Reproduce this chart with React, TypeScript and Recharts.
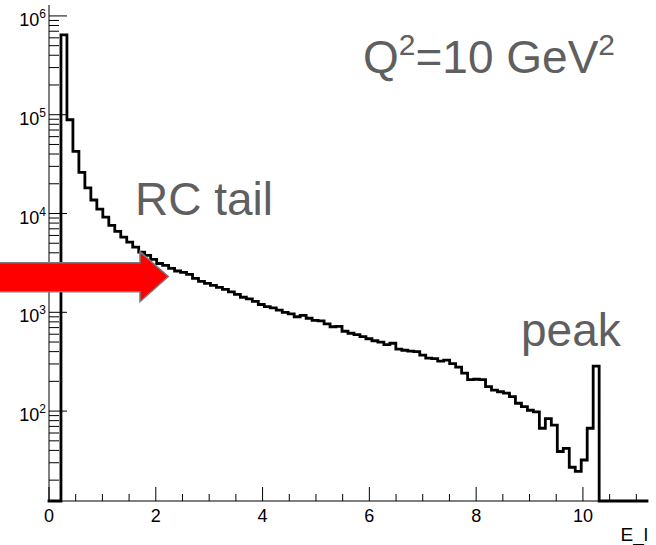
import React from "react";
import { LineChart, Line, XAxis, YAxis } from "recharts";

// Histogram: 100 bins over E_l in [0, 11.2]
const X_MIN = 0;
const X_MAX = 11.2;
const N_BINS = 100;
const Y_MIN = 12.3;
const Y_MAX = 1.29e6;

// bin contents (counts), bins 0..99
const counts: number[] = [
  0, 0, 643000, 88900, 42600, 26100, 18200, 13700, 11100, 9180,
  7570, 6580, 5770, 5140, 4570, 4070, 3770, 3430, 3120, 2980,
  2780, 2620, 2530, 2420, 2200, 2060, 1960, 1870, 1790, 1710,
  1610, 1520, 1420, 1370, 1290, 1200, 1140, 1110, 1050, 1000,
  966, 901, 933, 870, 830, 820, 765, 714, 722, 643,
  614, 593, 566, 540, 515, 498, 470, 486, 423, 413,
  404, 399, 368, 343, 339, 320, 328, 302, 278, 242,
  208, 210, 208, 177, 163, 157, 152, 140, 120, 111,
  102, 98, 67, 84, 72, 39, 42, 27, 24.5, 32,
  67, 285, 0, 0, 0, 0, 0, 0, 0, 0,
];

const xTicks: number[] = [
  0, 0.5, 1, 1.5, 2, 2.5, 3, 3.5, 4, 4.5, 5, 5.5,
  6, 6.5, 7, 7.5, 8, 8.5, 9, 9.5, 10, 10.5, 11,
];
const xMajorTicks: number[] = [0, 2, 4, 6, 8, 10];

const yTicks: number[] = [
  20, 30, 40, 50, 60, 70, 80, 90,
  100, 200, 300, 400, 500, 600, 700, 800, 900,
  1000, 2000, 3000, 4000, 5000, 6000, 7000, 8000, 9000,
  10000, 20000, 30000, 40000, 50000, 60000, 70000, 80000, 90000,
  100000, 200000, 300000, 400000, 500000, 600000, 700000, 800000, 900000,
  1000000,
];
const yMajorTicks: number[] = [100, 1000, 10000, 100000, 1000000];

const binWidth = (X_MAX - X_MIN) / N_BINS;
const table = counts.map((c, i) => ({
  x: +(X_MIN + i * binWidth).toFixed(4),
  y: c > 0 ? c : Y_MIN,
}));
table.push({ x: X_MAX, y: counts[N_BINS - 1] > 0 ? counts[N_BINS - 1] : Y_MIN });

const FONT = "'Liberation Sans', Arial, Helvetica, sans-serif";

const XTick = (props: any) => {
  const { x, y, payload } = props;
  const v = payload.value;
  const major = xMajorTicks.includes(v);
  return (
    <g>
      <line x1={x} x2={x} y1={y} y2={y - (major ? 14 : 7)} stroke="#000" strokeWidth={1} />
      {major && (
        <text x={x} y={y + 21} textAnchor="middle" fontSize={18} fontFamily={FONT} fill="#000">
          {v}
        </text>
      )}
    </g>
  );
};

const YTick = (props: any) => {
  const { x, y, payload } = props;
  const v = payload.value;
  const major = yMajorTicks.includes(v);
  const exp = Math.round(Math.log10(v));
  return (
    <g>
      <line x1={x} x2={x + (major ? 18 : 10)} y1={y} y2={y} stroke="#000" strokeWidth={1} />
      {major && (
        <text x={x - 3} y={y + 10} textAnchor="end" fontSize={18} fontFamily={FONT} fill="#000">
          10
          <tspan dy={-8} fontSize={12}>
            {exp}
          </tspan>
        </text>
      )}
    </g>
  );
};

const GREY = "#5f5f5f";

export default function App() {
  return (
    <div style={{ position: "absolute", left: 0, top: 0, width: 656, height: 545, background: "#fff", fontFamily: FONT }}>
      <LineChart
        width={656}
        height={545}
        data={table}
        margin={{ top: 5, right: 9, bottom: 0, left: 0 }}
      >
        <XAxis
          dataKey="x"
          type="number"
          domain={[X_MIN, X_MAX]}
          ticks={xTicks}
          interval={0}
          height={44}
          tickSize={0}
          tickMargin={0}
          tickLine={false}
          axisLine={{ stroke: "#000", strokeWidth: 1 }}
          tick={<XTick />}
        />
        <XAxis
          xAxisId="top"
          orientation="top"
          type="number"
          domain={[0, 1]}
          height={0}
          tick={false}
          tickLine={false}
          axisLine={{ stroke: "#000", strokeWidth: 1 }}
        />
        <YAxis
          type="number"
          scale="log"
          domain={[Y_MIN, Y_MAX]}
          ticks={yTicks}
          interval={0}
          width={49}
          tickSize={0}
          tickMargin={0}
          tickLine={false}
          axisLine={{ stroke: "#000", strokeWidth: 1 }}
          tick={<YTick />}
        />
        <YAxis
          yAxisId="right"
          orientation="right"
          type="number"
          domain={[0, 1]}
          width={0}
          tick={false}
          tickLine={false}
          axisLine={{ stroke: "#000", strokeWidth: 1 }}
        />
        <Line
          type="stepAfter"
          dataKey="y"
          stroke="#000"
          strokeWidth={2.8}
          dot={false}
          activeDot={false}
          isAnimationActive={false}
          strokeLinejoin="miter"
          strokeLinecap="square"
        />
      </LineChart>
      <svg
        width={656}
        height={545}
        style={{ position: "absolute", left: 0, top: 0, pointerEvents: "none" }}
      >
        <text x={363} y={73} fontSize={46} fontFamily={FONT} fill={GREY}>
          Q<tspan dy={-18} fontSize={30}>2</tspan>
          <tspan dy={18}>=10 GeV</tspan>
          <tspan dy={-18} fontSize={30}>2</tspan>
        </text>
        <text x={135} y={215} fontSize={46} fontFamily={FONT} fill={GREY}>
          RC tail
        </text>
        <text x={521} y={346} fontSize={46} fontFamily={FONT} fill={GREY}>
          peak
        </text>
        <polygon
          points="-3,262.7 140,262.7 140,251.7 168.3,276.5 140,301.7 140,291.7 -3,291.7"
          fill="#ff0000"
          stroke="#7a7a7a"
          strokeWidth={1.5}
        />
        <text x={648} y={541} textAnchor="end" fontSize={19} fontFamily={FONT} fill="#000">
          E_l
        </text>
      </svg>
    </div>
  );
}
